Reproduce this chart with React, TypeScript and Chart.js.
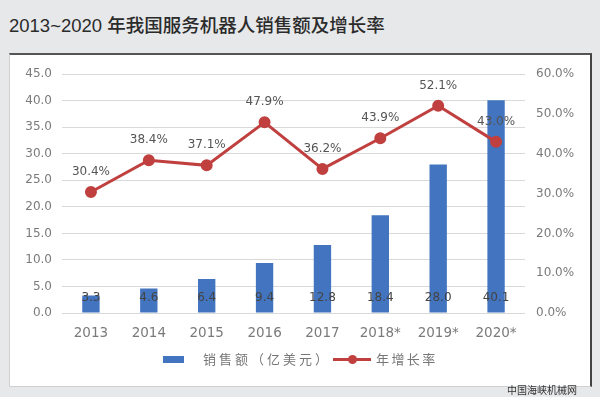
import React, { useEffect, useRef } from "react";
import { Chart, registerables } from "chart.js";

Chart.register(...registerables);

const categories = ["2013", "2014", "2015", "2016", "2017", "2018*", "2019*", "2020*"];
const salesValues = [3.3, 4.6, 6.4, 9.4, 12.8, 18.4, 28.0, 40.1];
const growthValues = [30.4, 38.4, 37.1, 47.9, 36.2, 43.9, 52.1, 43.0];
const salesLabel = "销售额（亿美元）";
const growthLabel = "年增长率";
const titleText = "2013~2020 年我国服务机器人销售额及增长率";
const watermark = "中国海峡机械网";

const BLUE = "#4274bf";
const RED = "#c0403f";
const TICK = "#7a7a7a";

const labelPlugin = {
  id: "valueLabels",
  afterDatasetsDraw(chart: any) {
    const ctx = chart.ctx;
    ctx.save();
    ctx.font = "12px 'DejaVu Sans'";
    ctx.textAlign = "center";
    ctx.textBaseline = "middle";
    const barMeta = chart.getDatasetMeta(0);
    const yScale = chart.scales.y;
    const base = yScale.getPixelForValue(0);
    ctx.fillStyle = "#444";
    barMeta.data.forEach((el: any, i: number) => {
      ctx.fillText(salesValues[i].toFixed(1), el.x, base - 15);
    });
    const lineMeta = chart.getDatasetMeta(1);
    ctx.fillStyle = "#555";
    lineMeta.data.forEach((el: any, i: number) => {
      ctx.fillText(growthValues[i].toFixed(1) + "%", el.x, el.y - 20);
    });
    ctx.restore();
  },
};

export default function App() {
  const ref = useRef<HTMLCanvasElement>(null);
  useEffect(() => {
    if (!ref.current) return;
    const chart = new Chart(ref.current, {
      type: "bar",
      data: {
        labels: categories,
        datasets: [
          {
            type: "bar",
            label: salesLabel,
            data: salesValues,
            backgroundColor: BLUE,
            yAxisID: "y",
            barPercentage: 0.3,
            categoryPercentage: 1,
            order: 2,
          },
          {
            type: "line",
            label: growthLabel,
            data: growthValues,
            borderColor: RED,
            backgroundColor: RED,
            borderWidth: 3,
            pointRadius: 4.5,
            pointBackgroundColor: RED,
            pointBorderColor: RED,
            yAxisID: "y1",
            order: 1,
          } as any,
        ],
      },
      options: {
        animation: false,
        responsive: false,
        maintainAspectRatio: false,
        layout: { padding: { top: 6, left: 0, right: 0, bottom: 0 } },
        plugins: {
          legend: { display: false },
          tooltip: { enabled: false },
        },
        scales: {
          x: {
            grid: { display: false },
            border: { display: false },
            ticks: { color: TICK, font: { family: "DejaVu Sans", size: 13.5 }, padding: 4, maxRotation: 0 },
            afterFit: (s: any) => { s.height = 71; },
          },
          y: {
            position: "left",
            min: 0,
            max: 45,
            ticks: {
              stepSize: 5,
              color: TICK,
              font: { family: "DejaVu Sans", size: 12 },
              padding: 10,
              callback: (v: any) => Number(v).toFixed(1),
            },
            grid: { color: "#d9d9d9", drawTicks: false },
            border: { display: false },
            afterFit: (s: any) => { s.width = 52; },
          },
          y1: {
            position: "right",
            min: 0,
            max: 60,
            ticks: {
              stepSize: 10,
              color: TICK,
              font: { family: "DejaVu Sans", size: 12 },
              padding: 11,
              callback: (v: any) => Number(v).toFixed(1) + "%",
            },
            grid: { display: false, drawTicks: false },
            border: { display: false },
            afterFit: (s: any) => { s.width = 65; },
          },
        },
      },
      plugins: [labelPlugin],
    });
    return () => chart.destroy();
  }, []);

  return (
    <div style={{ position: "fixed", left: 0, top: 0, width: 600, height: 397, background: "#e7e8ea", overflow: "hidden" }}>
      <div
        style={{
          position: "absolute",
          left: 9,
          top: 11,
          fontFamily: "'Liberation Sans', 'Noto Sans CJK SC', sans-serif",
          fontSize: 18.5,
          fontWeight: 500,
          color: "#2b2b2b",
          whiteSpace: "nowrap",
        }}
      >
        {titleText}
      </div>
      <div
        style={{
          position: "absolute",
          left: 9,
          top: 53,
          width: 580,
          height: 331,
          background: "#ffffff",
          borderTop: "2px solid #555",
          borderRight: "2px solid #444",
          borderLeft: "1px solid #d0d0d0",
          borderBottom: "1px solid #d0d0d0",
        }}
      >
        <canvas ref={ref} width={580} height={328} style={{ position: "absolute", left: 0, top: 1, width: 580, height: 328 }} />
        <div
          style={{
            position: "absolute",
            top: 296,
            left: 0,
            width: 580,
            height: 16,
            fontFamily: "'Noto Sans CJK SC', sans-serif",
            fontSize: 13,
            color: "#777",
          }}
        >
          <div style={{ position: "absolute", left: 153, top: 5, width: 21, height: 7, background: BLUE }} />
          <div style={{ position: "absolute", left: 193, top: -2, letterSpacing: 3, whiteSpace: "nowrap" }}>{salesLabel}</div>
          <div style={{ position: "absolute", left: 323, top: 7, width: 38, height: 3, background: RED }} />
          <div style={{ position: "absolute", left: 338, top: 4, width: 9, height: 9, borderRadius: 5, background: RED }} />
          <div style={{ position: "absolute", left: 366, top: -2, letterSpacing: 2.4, whiteSpace: "nowrap" }}>{growthLabel}</div>
        </div>
      </div>
      <div
        style={{
          position: "absolute",
          left: 507,
          top: 382,
          fontFamily: "'Noto Sans CJK SC', sans-serif",
          fontSize: 10,
          color: "#333",
          whiteSpace: "nowrap",
        }}
      >
        {watermark}
      </div>
    </div>
  );
}
